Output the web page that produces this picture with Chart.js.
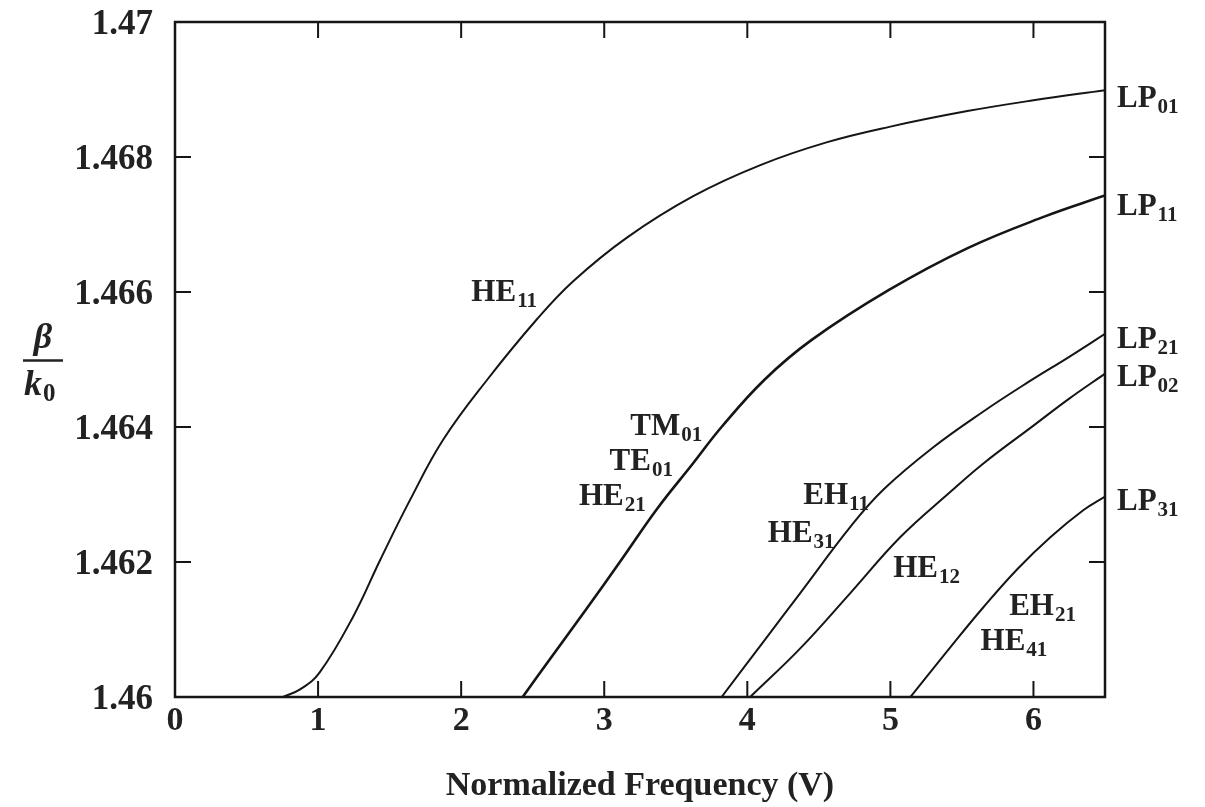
<!DOCTYPE html>
<html><head><meta charset="utf-8">
<script src="https://cdn.jsdelivr.net/npm/chart.js@4"></script>
<style>html,body{margin:0;padding:0;background:#fff}#wrap{width:1205px;height:807px;position:relative}</style>
</head><body><div id="wrap"><canvas id="c" width="1205" height="807"></canvas></div>
<script>
// ---- tick values / labels ----
const xTicks = [0, 1, 2, 3, 4, 5, 6];
const yTicks = [1.46, 1.462, 1.464, 1.466, 1.468, 1.47];
const yTickLabels = ['1.46', '1.462', '1.464', '1.466', '1.468', '1.47'];
const xTitle = 'Normalized Frequency (V)';

// ---- series (V, beta/k0) ----
const lp01V = [0.755, 0.88, 1.01, 1.245, 1.434, 1.643, 1.874, 2.182, 2.531, 2.783, 3.161, 3.622, 4.091, 4.559, 5.0, 5.538, 6.0, 6.5];
const lp01B = [1.46000, 1.46012, 1.46036, 1.46119, 1.46203, 1.46292, 1.46381, 1.46470, 1.46560, 1.46616, 1.46681, 1.46742, 1.46788, 1.46822, 1.46845, 1.46868, 1.46884, 1.46899];

const lp11V = [2.43, 2.62, 2.874, 3.119, 3.37, 3.62, 3.82, 4.12, 4.45, 4.99, 5.54, 6.08, 6.5];
const lp11B = [1.46000, 1.46056, 1.46130, 1.46203, 1.46279, 1.46346, 1.46400, 1.46470, 1.46529, 1.46603, 1.46665, 1.46712, 1.46743];

const lp21V = [3.82, 4.12, 4.37, 4.72, 4.95, 5.30, 5.65, 5.96, 6.25, 6.5];
const lp21B = [1.46000, 1.46084, 1.46154, 1.46252, 1.46307, 1.46370, 1.46423, 1.46466, 1.46504, 1.46538];

const lp02V = [4.02, 4.37, 4.72, 5.07, 5.42, 5.65, 6.0, 6.25, 6.5];
const lp02B = [1.46000, 1.46072, 1.46154, 1.46237, 1.46304, 1.46346, 1.46402, 1.46442, 1.46479];

const lp31V = [5.14, 5.42, 5.65, 5.89, 6.12, 6.35, 6.5];
const lp31B = [1.46000, 1.46074, 1.46133, 1.46190, 1.46237, 1.46277, 1.46297];

// ---- curve annotations: [main, subscript, V, beta, anchor] ----
const modeLabels = [
  ['HE', '11', 2.53, 1.46601, 'right'],
  ['TM', '01', 3.685, 1.46403, 'right'],
  ['TE', '01', 3.48, 1.46351, 'right'],
  ['HE', '21', 3.29, 1.46299, 'right'],
  ['EH', '11', 4.85, 1.46301, 'right'],
  ['HE', '31', 4.61, 1.46244, 'right'],
  ['HE', '12', 5.02, 1.46193, 'left'],
  ['EH', '21', 5.83, 1.46136, 'left'],
  ['HE', '41', 5.63, 1.46084, 'left']
];
// ---- LP labels at right edge: [main, subscript, beta] ----
const lpLabels = [
  ['LP', '01', 1.46889],
  ['LP', '11', 1.46729],
  ['LP', '21', 1.46532],
  ['LP', '02', 1.46476],
  ['LP', '31', 1.46292]
];

const SERIF = '"Liberation Serif", "Times New Roman", serif';
const ink = '#151515';
const textInk = '#222';

function pts(xs, ys) { return xs.map((v, i) => ({x: v, y: ys[i]})); }
function ds(label, xs, ys, w) {
  return {label, data: pts(xs, ys), borderColor: ink, borderWidth: w, pointRadius: 0,
    fill: false, showLine: true, tension: 0.4};
}

const framePlugin = {
  id: 'frame',
  afterDraw(chart) {
    const ctx = chart.ctx, ca = chart.chartArea;
    const xs = chart.scales.x, ys = chart.scales.y;
    ctx.save();
    ctx.strokeStyle = ink;
    ctx.lineWidth = 2.5;
    ctx.strokeRect(ca.left, ca.top, ca.right - ca.left, ca.bottom - ca.top);
    ctx.lineWidth = 2;
    const tl = 16;
    xTicks.forEach(v => {
      if (v <= xs.min || v >= xs.max) return;
      const p = xs.getPixelForValue(v);
      ctx.beginPath();
      ctx.moveTo(p, ca.bottom); ctx.lineTo(p, ca.bottom - tl);
      ctx.moveTo(p, ca.top); ctx.lineTo(p, ca.top + tl);
      ctx.stroke();
    });
    yTicks.forEach(v => {
      if (v <= ys.min || v >= ys.max) return;
      const p = ys.getPixelForValue(v);
      ctx.beginPath();
      ctx.moveTo(ca.left, p); ctx.lineTo(ca.left + tl, p);
      ctx.moveTo(ca.right, p); ctx.lineTo(ca.right - tl, p);
      ctx.stroke();
    });

    // labels with subscripts
    ctx.fillStyle = textInk;
    ctx.textBaseline = 'alphabetic';
    const mainFont = 'bold 31px ' + SERIF, subFont = 'bold 21px ' + SERIF;
    function drawLabel(main, sub, x0, cy) {
      ctx.font = mainFont;
      const wm = ctx.measureText(main).width;
      ctx.fillText(main, x0, cy + 10);
      ctx.font = subFont;
      ctx.fillText(sub, x0 + wm + 1, cy + 16);
    }
    function width(main, sub) {
      ctx.font = mainFont; const a = ctx.measureText(main).width;
      ctx.font = subFont; const b = ctx.measureText(sub).width;
      return a + b + 1;
    }
    modeLabels.forEach(([m, s, v, b, anchor]) => {
      const px = xs.getPixelForValue(v), py = ys.getPixelForValue(b);
      const x0 = anchor === 'right' ? px - width(m, s) : px;
      drawLabel(m, s, x0, py);
    });
    lpLabels.forEach(([m, s, b]) => {
      drawLabel(m, s, ca.right + 12, ys.getPixelForValue(b));
    });

    // y-axis title: beta / k0
    const cy = (ys.getPixelForValue(1.466) + ys.getPixelForValue(1.464)) / 2;
    ctx.textAlign = 'center';
    ctx.font = 'italic bold 36px ' + SERIF;
    ctx.fillText('β', 43, cy - 12);
    ctx.strokeStyle = textInk;
    ctx.lineWidth = 2.4;
    ctx.beginPath(); ctx.moveTo(23, cy + 1); ctx.lineTo(63, cy + 1); ctx.stroke();
    ctx.textAlign = 'left';
    ctx.font = 'italic bold 36px ' + SERIF;
    ctx.fillText('k', 24, cy + 35);
    const kw = ctx.measureText('k').width;
    ctx.font = 'bold 25px ' + SERIF;
    ctx.fillText('0', 24 + kw + 1, cy + 41);
    ctx.restore();
  }
};

new Chart(document.getElementById('c'), {
  type: 'scatter',
  data: {
    datasets: [
      ds('LP01', lp01V, lp01B, 2),
      ds('LP11', lp11V, lp11B, 2.6),
      ds('LP21', lp21V, lp21B, 2),
      ds('LP02', lp02V, lp02B, 2),
      ds('LP31', lp31V, lp31B, 2)
    ]
  },
  options: {
    responsive: false,
    animation: false,
    layout: {padding: {left: 0, right: 100, top: 22, bottom: 0}},
    plugins: {legend: {display: false}, tooltip: {enabled: false}},
    scales: {
      x: {
        type: 'linear', position: 'bottom', min: 0, max: 6.5,
        afterBuildTicks(s) { s.ticks = xTicks.map(v => ({value: v})); },
        afterFit(s) { s.height = 110; s.paddingLeft = 0; s.paddingRight = 0; },
        grid: {display: false, drawTicks: false},
        border: {display: false},
        ticks: {color: textInk, font: {family: SERIF, size: 34, weight: 'bold'}, padding: 4, maxRotation: 0,
          callback: v => String(v)},
        title: {display: true, text: xTitle, color: textInk, font: {family: SERIF, size: 34, weight: 'bold'},
          padding: {top: 0, bottom: 0}}
      },
      y: {
        type: 'linear', position: 'left', min: 1.46, max: 1.47,
        afterBuildTicks(s) { s.ticks = yTicks.map(v => ({value: v})); },
        afterFit(s) { s.width = 175; s.paddingTop = 0; s.paddingBottom = 0; },
        grid: {display: false, drawTicks: false},
        border: {display: false},
        ticks: {color: textInk, font: {family: SERIF, size: 35, weight: 'bold'}, padding: 22, labelOffset: 3,
          callback: (v) => { const i = yTicks.findIndex(t => Math.abs(t - v) < 1e-9); return i >= 0 ? yTickLabels[i] : ''; }}
      }
    }
  },
  plugins: [framePlugin]
});
</script>
</body></html>
